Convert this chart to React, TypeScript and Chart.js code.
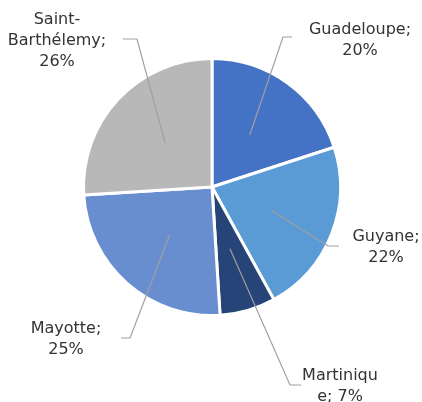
import React, { useEffect, useRef } from "react";
import { Chart, registerables } from "chart.js";

Chart.register(...registerables);

// ---- data ----
const categories = ["Guadeloupe", "Guyane", "Martinique", "Mayotte", "Saint-Barthélemy"];
const shares = [20, 22, 7, 25, 26];
const sliceColors = ["#4472C4", "#5B9BD5", "#264478", "#698ED0", "#B8B8B8"];

// label text, wrapped where the original wraps it
const labelLines: string[][] = categories.map((c, i) => {
  const p = `${shares[i]}%`;
  if (c === "Martinique") return [c.slice(0, 9), `${c.slice(9)}; ${p}`];
  if (c === "Saint-Barthélemy") return [c.slice(0, 6), `${c.slice(6)};`, p];
  return [`${c};`, p];
});

// ---- layout of the data labels (text centre, leader elbow, leader end) ----
const labelLayout = [
  { tx: 360, ty: 30, ex: 283, ey: 37, hx: 292 },
  { tx: 386, ty: 237, ex: 328, ey: 246, hx: 339 },
  { tx: 340, ty: 376, ex: 290, ey: 385, hx: 301 },
  { tx: 66, ty: 329, ex: 130, ey: 338, hx: 121 },
  { tx: 57, ty: 20, ex: 137, ey: 39, hx: 123 },
];
const LINE_H = 21;
const FONT = '16px "DejaVu Sans"';

const labelPlugin = {
  id: "pieLabels",
  afterDatasetsDraw(chart: any) {
    const ctx = chart.ctx;
    const meta = chart.getDatasetMeta(0);
    ctx.save();
    meta.data.forEach((arc: any, i: number) => {
      const L = labelLayout[i];
      const mid = (arc.startAngle + arc.endAngle) / 2;
      const r = arc.outerRadius * 0.5;
      const sx = arc.x + Math.cos(mid) * r;
      const sy = arc.y + Math.sin(mid) * r;
      ctx.strokeStyle = "#A0A0A0";
      ctx.lineWidth = 1.2;
      ctx.beginPath();
      ctx.moveTo(sx, sy);
      ctx.lineTo(L.ex, L.ey);
      ctx.lineTo(L.hx, L.ey);
      ctx.stroke();
      ctx.fillStyle = "#333333";
      ctx.font = FONT;
      ctx.textAlign = "center";
      ctx.textBaseline = "middle";
      labelLines[i].forEach((line, k) => {
        ctx.fillText(line, L.tx, L.ty + k * LINE_H);
      });
    });
    ctx.restore();
  },
};

export default function App() {
  const ref = useRef<HTMLCanvasElement | null>(null);
  useEffect(() => {
    if (!ref.current) return;
    const chart = new Chart(ref.current, {
      type: "pie",
      data: {
        labels: categories,
        datasets: [
          {
            data: shares,
            backgroundColor: sliceColors,
            borderColor: "#FFFFFF",
            borderWidth: 3,
          },
        ],
      },
      options: {
        responsive: false,
        animation: false,
        layout: { padding: { left: 82, right: 80, top: 57, bottom: 85 } },
        plugins: {
          legend: { display: false },
          tooltip: { enabled: false },
        },
      },
      plugins: [labelPlugin],
    });
    return () => chart.destroy();
  }, []);
  return (
    <div style={{ position: "fixed", left: 0, top: 0, width: 422, height: 402, background: "#fff" }}>
      <canvas ref={ref} width={422} height={402} />
    </div>
  );
}
